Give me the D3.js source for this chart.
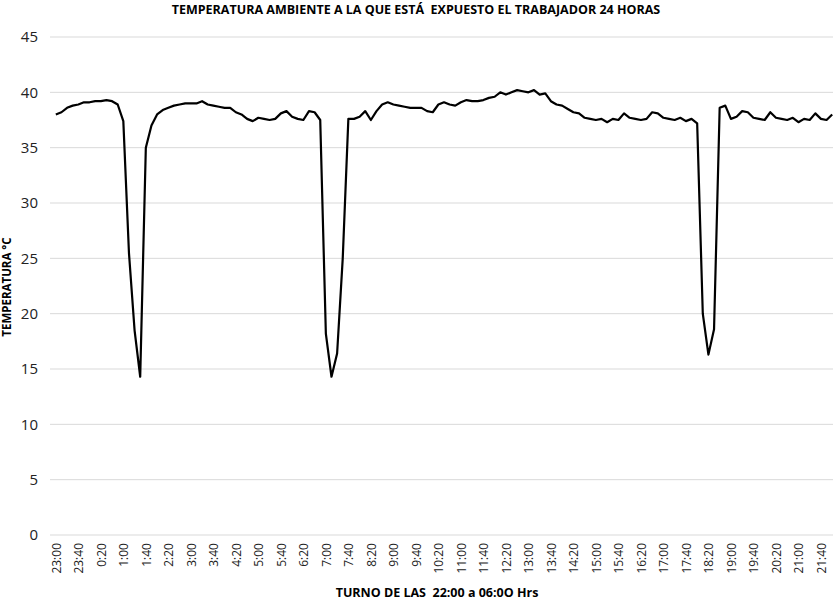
<!DOCTYPE html><html><head><meta charset="utf-8"><script src="https://cdn.jsdelivr.net/npm/d3@7"></script>
<style>body{margin:0;background:#fff}text{font-family:"Open Sans","Liberation Sans",sans-serif;white-space:pre}</style></head><body><svg id="c" width="836" height="615"></svg>
<script>
const startTime = "23:00";
const stepMinutes = 10;
const temps = [38.0,38.2,38.6,38.8,38.9,39.1,39.1,39.2,39.2,39.3,39.2,38.9,37.4,25.5,18.5,14.3,35.0,37.0,38.0,38.4,
38.6,38.8,38.9,39.0,39.0,39.0,39.2,38.9,38.8,38.7,38.6,38.6,38.2,38.0,37.6,37.4,37.7,37.6,37.5,37.6,
38.1,38.3,37.8,37.6,37.5,38.3,38.2,37.5,18.2,14.3,16.4,25.0,37.6,37.6,37.8,38.3,37.5,38.3,38.9,39.1,
38.9,38.8,38.7,38.6,38.6,38.6,38.3,38.2,38.9,39.1,38.9,38.8,39.1,39.3,39.2,39.2,39.3,39.5,39.6,40.0,
39.8,40.0,40.2,40.1,40.0,40.2,39.8,39.9,39.2,38.9,38.8,38.5,38.2,38.1,37.7,37.6,37.5,37.6,37.3,37.6,
37.5,38.1,37.7,37.6,37.5,37.6,38.2,38.1,37.7,37.6,37.5,37.7,37.4,37.6,37.2,20.0,16.3,18.6,38.6,38.8,
37.6,37.8,38.3,38.2,37.7,37.6,37.5,38.2,37.7,37.6,37.5,37.7,37.3,37.6,37.5,38.1,37.6,37.5,38.0];
const yTicks = [0,5,10,15,20,25,30,35,40,45];
const title = "TEMPERATURA AMBIENTE A LA QUE ESTÁ  EXPUESTO EL TRABAJADOR 24 HORAS";
const xTitle = "TURNO DE LAS  22:00 a 06:0O Hrs";
const yTitle = "TEMPERATURA °C";

const [h0,m0] = startTime.split(":").map(Number);
const cats = temps.map((_,i)=>{const t=(h0*60+m0+i*stepMinutes)%1440;return Math.floor(t/60)+":"+String(t%60).padStart(2,"0");});
const svg = d3.select("#c");
const L=53,R=835,T=37,B=535;
const x = d3.scalePoint().domain(cats).range([L,R]).padding(0.5);
const y = d3.scaleLinear().domain([0,45]).range([B,T]);
svg.append("g").selectAll("line").data(yTicks).join("line")
 .attr("x1",50).attr("x2",833).attr("y1",d=>y(d)).attr("y2",d=>y(d)).attr("stroke","#d9d9d9").attr("stroke-width",1);
const ya = svg.append("g").attr("transform",`translate(50,0)`).call(d3.axisLeft(y).tickValues(yTicks).tickSize(0).tickPadding(12));
ya.select(".domain").remove();
ya.selectAll("text").attr("font-size",15).attr("fill","#222");
const xa = svg.append("g").attr("transform",`translate(0,${B})`).call(d3.axisBottom(x).tickValues(cats.filter((_,i)=>i%4===0)).tickSize(0));
xa.select(".domain").remove();
xa.selectAll("text").attr("font-size",12).attr("fill","#222").attr("transform","rotate(-90)").attr("text-anchor","end").attr("dx","-8").attr("x",0).attr("y",0).attr("dy","0.35em");
svg.append("path").datum(temps).attr("fill","none").attr("stroke","#000").attr("stroke-width",2.2).attr("stroke-linejoin","round")
 .attr("d",d3.line().x((d,i)=>x(cats[i])).y(d=>y(d)));
svg.append("text").attr("x",416).attr("y",14).attr("text-anchor","middle").attr("font-size",12.5).attr("font-weight","bold").text(title);
svg.append("text").attr("x",437).attr("y",597).attr("text-anchor","middle").attr("font-size",12.5).attr("font-weight","bold").text(xTitle);
svg.append("text").attr("transform","translate(11,287) rotate(-90)").attr("text-anchor","middle").attr("font-size",11.5).attr("font-weight","bold").text(yTitle);
</script></body></html>
